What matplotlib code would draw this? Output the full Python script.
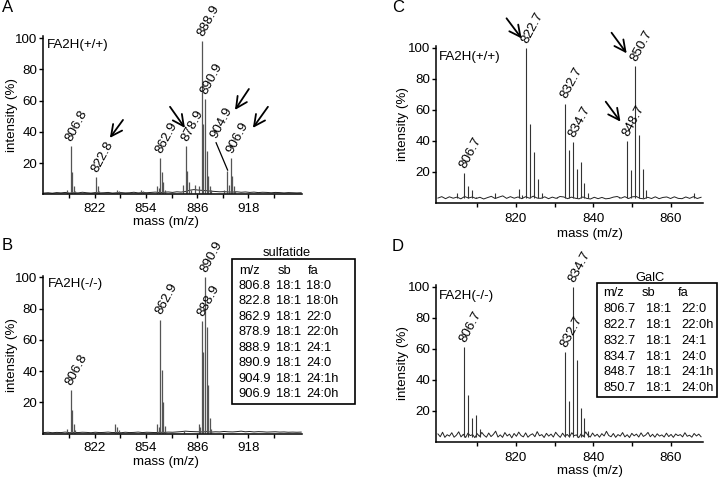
import numpy as np
import matplotlib
matplotlib.use('Agg')
import matplotlib.pyplot as plt
from matplotlib.patches import Rectangle
from matplotlib.ticker import FixedLocator

plt.rcParams['font.family'] = ['Liberation Sans', 'DejaVu Sans']
FS = 9.6
TFS = 9.3

# ---------------- data ----------------
# Panel A: sulfatide, FA2H(+/+)
a_mass = [804.8, 806.8, 807.8, 808.8, 809.8, 822.8, 823.8, 824.8, 835.8, 836.8,
          850.9, 851.9, 860.9, 861.9, 862.9, 863.9, 864.9, 865.9, 876.9, 878.9,
          879.9, 880.9, 881.9, 884.9, 886.9, 888.9, 889.9, 890.9, 891.9, 892.9,
          893.9, 894.9, 902.9, 904.9, 905.9, 906.9, 907.9, 908.9, 909.9]
a_int = [3, 31, 14, 5, 2, 11, 5, 2, 3, 2,
         3, 2, 5, 4, 23, 14, 8, 3, 6, 31,
         15, 8, 3, 6, 5, 98, 45, 61, 28, 12,
         5, 3, 3, 15, 6, 23, 12, 5, 2]
a_noise = [0.8, 1.0, 0.7, 1.1, 0.9, 1.2, 0.8, 1.0, 0.9, 1.3, 1.0, 0.8, 1.1, 0.9, 1.0,
           1.2, 0.8, 1.0, 1.1, 0.9, 1.0, 1.3, 0.9, 1.1, 1.0, 1.2, 1.4, 1.1, 1.3, 1.5,
           1.2, 1.6, 1.4, 1.8, 2.6, 3.0, 2.7, 2.5, 2.3, 2.0, 1.8, 1.6, 1.7, 1.5, 1.4,
           1.6, 1.3, 1.5, 1.2, 1.4, 1.1, 1.3, 1.2, 1.0, 1.2, 1.1, 0.9, 1.1, 1.0, 0.9, 1.0]
a_labels = ['806.8', '822.8', '862.9', '878.9', '888.9', '890.9', '906.9']
a_lab_mass = [806.8, 822.8, 862.9, 878.9, 888.9, 890.9, 906.9]
a_lab_int = [31, 11, 23, 31, 98, 61, 23]

# Panel B: sulfatide, FA2H(-/-)
b_mass = [804.8, 806.8, 807.8, 808.8, 809.8, 834.8, 835.8, 836.8, 860.9, 861.9,
          862.9, 863.9, 864.9, 865.9, 877.9, 886.9, 887.9, 888.9, 889.9, 890.9,
          891.9, 892.9, 893.9, 894.9]
b_int = [3, 28, 15, 6, 2, 6, 4, 2, 6, 4,
         73, 41, 20, 5, 1.5, 6, 4, 72, 52, 100,
         68, 31, 10, 3]
b_noise = [0.6, 0.8, 0.5, 0.7, 0.6, 0.9, 0.5, 0.7, 0.6, 0.8, 0.7, 0.5, 0.8, 0.6, 0.7,
           0.9, 0.6, 0.7, 0.5, 0.8, 0.6, 0.7, 0.9, 0.6, 0.8, 0.7, 0.6, 0.8, 0.7, 0.9,
           0.8, 1.0, 1.2, 1.5, 1.3, 1.2, 1.1, 1.0, 1.2, 0.9, 1.1, 1.0, 1.3, 1.1, 1.0,
           1.2, 1.5, 1.1, 1.3, 1.0, 1.2, 1.1, 0.9, 1.0, 1.1, 0.9, 1.0, 0.8, 0.9, 0.8, 0.9]
b_labels = ['806.8', '862.9', '888.9', '890.9']
b_lab_mass = [806.8, 862.9, 888.9, 890.9]
b_lab_int = [28, 73, 72, 100]

# Panel C: GalC, FA2H(+/+)
c_mass = [804.7, 806.7, 807.7, 808.7, 809.7, 814.7, 820.7, 821.7, 822.7, 823.7,
          824.7, 825.7, 826.7, 830.7, 832.7, 833.7, 834.7, 835.7, 836.7, 837.7,
          838.7, 846.7, 848.7, 849.7, 850.7, 851.7, 852.7, 853.7, 866.0]
c_int = [6, 19, 11, 8, 4, 6, 9, 5, 100, 51,
         33, 15, 6, 4, 64, 34, 39, 22, 26, 13,
         6, 4, 40, 21, 88, 44, 22, 8, 6]
c_noise = [3.0, 3.9, 2.6, 3.8, 2.9, 3.6, 2.5, 4.0, 3.0, 3.7, 2.7, 3.5, 2.4, 3.3, 4.1,
           2.7, 3.6, 4.4, 2.8, 3.9, 2.9, 3.7, 2.6, 3.9, 2.9, 4.2, 3.0, 2.8, 3.8, 2.6,
           3.6, 2.8, 4.0, 3.7, 2.6, 3.6, 2.9, 2.5, 3.7, 2.8, 2.4, 3.5, 2.6, 3.4, 2.5,
           2.8, 3.6, 4.0, 2.9, 3.9, 2.7, 3.8, 4.0, 2.8, 2.5, 3.5, 2.7, 3.8, 2.6, 3.4,
           3.7, 2.7, 3.8, 2.8, 2.6, 3.7, 2.8, 3.9, 2.7, 3.5]
c_labels = ['806.7', '822.7', '832.7', '834.7', '848.7', '850.7']
c_lab_mass = [806.7, 822.7, 832.7, 834.7, 848.7, 850.7]
c_lab_int = [19, 100, 64, 39, 40, 88]

# Panel D: GalC, FA2H(-/-)
d_mass = [806.7, 807.7, 808.7, 809.7, 810.7, 832.7, 833.7, 834.7, 835.7, 836.7,
          837.7, 838.7]
d_int = [61, 30, 15, 17, 8, 58, 26, 100, 53, 22,
         15, 7]
d_noise = [5.0, 3.2, 6.1, 2.8, 4.5, 3.6, 5.8, 2.9, 4.2, 6.4, 3.1, 4.8, 2.7, 5.5, 3.9,
           4.6, 2.6, 5.2, 3.4, 6.0, 4.1, 2.9, 5.6, 3.3, 4.7, 6.8, 3.0, 4.4, 2.8, 5.9,
           3.7, 4.9, 2.5, 5.3, 3.5, 6.2, 4.0, 3.1, 5.7, 2.9, 4.3, 5.1, 3.2, 6.5, 3.8,
           4.6, 2.7, 5.4, 3.6, 4.9, 3.0, 6.1, 4.2, 2.8, 5.5, 3.4, 4.7, 3.1, 5.8, 3.9,
           4.4, 2.6, 5.0, 3.3, 6.3, 4.1, 3.0, 5.6, 3.5, 4.8, 2.9, 5.2, 3.7, 6.7, 4.0,
           3.2, 5.3, 2.8, 4.6, 3.6, 5.9, 3.1, 4.5, 2.7, 5.4, 3.8, 4.9, 3.0, 5.7, 3.4,
           4.3, 6.0, 3.2, 4.8, 2.9, 5.1, 3.6, 4.4, 3.0, 5.5, 3.3, 4.7, 2.8, 5.0, 3.9,
           4.6, 3.1, 5.8, 3.5, 4.2, 2.9, 5.3, 3.7, 4.9, 3.2]
d_labels = ['806.7', '832.7', '834.7']
d_lab_mass = [806.7, 832.7, 834.7]
d_lab_int = [61, 58, 100]

# tables
sulf_mz = ['806.8', '822.8', '862.9', '878.9', '888.9', '890.9', '904.9', '906.9']
sulf_sb = ['18:1'] * 8
sulf_fa = ['18:0', '18:0h', '22:0', '22:0h', '24:1', '24:0', '24:1h', '24:0h']
galc_mz = ['806.7', '822.7', '832.7', '834.7', '848.7', '850.7']
galc_sb = ['18:1'] * 6
galc_fa = ['22:0', '22:0h', '24:1', '24:0', '24:1h', '24:0h']

W, H = 720, 480
fig = plt.figure(figsize=(7.2, 4.8), dpi=100)


def px_axes(x0, x1, ytop, ybot):
    return fig.add_axes([x0 / W, 1 - ybot / H, (x1 - x0) / W, (ybot - ytop) / H])


def setup(ax, xlim, major, minor):
    ax.set_xlim(*xlim)
    ax.set_ylim(0, 101)
    for s in ['top', 'right']:
        ax.spines[s].set_visible(False)
    for s in ['left', 'bottom']:
        ax.spines[s].set_linewidth(1.1)
    ax.xaxis.set_major_locator(FixedLocator(major))
    ax.xaxis.set_minor_locator(FixedLocator(minor))
    ax.yaxis.set_major_locator(FixedLocator([20, 40, 60, 80, 100]))
    ax.tick_params(axis='both', which='both', direction='out', length=3, width=1,
                   labelsize=FS)
    ax.tick_params(axis='x', pad=3)
    ax.tick_params(axis='y', pad=1)
    ax.set_ylabel('intensity (%)', fontsize=FS)
    ax.set_xlabel('mass (m/z)', fontsize=FS)


def spectrum(ax, mass, inten, noise, xlim, floor, color, lw):
    nx = np.linspace(xlim[0] + 0.5, xlim[1] - 0.5, len(noise))
    ax.plot(nx, noise, color='#222222', lw=0.7, clip_on=False)
    ax.vlines(mass, floor, inten, colors=color, lw=lw)


def labels(ax, texts, mass, inten):
    for t, m, h in zip(texts, mass, inten):
        ax.annotate(t, (m, h), xytext=(-1, 4), textcoords='offset points',
                    rotation=62, rotation_mode='anchor', ha='left', va='center',
                    fontsize=FS, annotation_clip=False)


def arrow(ax, start, end):
    ax.annotate('', xy=end, xytext=start, annotation_clip=False,
                arrowprops=dict(arrowstyle='->,head_length=0.8,head_width=0.4',
                                color='black', lw=1.3, shrinkA=0, shrinkB=0))


# ---- A ----
xl_ab = (789.6, 951.5)
axA = px_axes(43, 302, 36.5, 194.3)
setup(axA, xl_ab, [822, 854, 886, 918], [806, 838, 870, 902, 934])
spectrum(axA, a_mass, a_int, a_noise, xl_ab, 0.8, '#555555', 0.9)
labels(axA, a_labels, a_lab_mass, a_lab_int)
axA.annotate('904.9', (896.3, 36), rotation=62, rotation_mode='anchor', ha='left',
             va='center', fontsize=FS, annotation_clip=False)
axA.plot([897.8, 905.0], [33, 15.5], color='black', lw=0.9)
arrow(axA, (839.6, 47.6), (831.4, 36.1))
arrow(axA, (869.0, 56), (878.3, 42.5))
arrow(axA, (918.3, 67.4), (909.6, 54))
arrow(axA, (930.2, 56), (920.8, 42.5))
axA.text(0.015, 0.985, 'FA2H(+/+)', transform=axA.transAxes, ha='left', va='top',
         fontsize=FS)
axA.yaxis.set_label_coords(-0.097, 0.5)
axA.xaxis.set_label_coords(0.475, -0.137)

# ---- B ----
axB = px_axes(43, 302, 275.9, 433.5)
setup(axB, xl_ab, [822, 854, 886, 918], [806, 838, 870, 902, 934])
spectrum(axB, b_mass, b_int, b_noise, xl_ab, 0.6, '#555555', 0.9)
labels(axB, b_labels, b_lab_mass, b_lab_int)
axB.text(0.02, 0.985, 'FA2H(-/-)', transform=axB.transAxes, ha='left', va='top',
         fontsize=FS)
axB.yaxis.set_label_coords(-0.097, 0.5)
axB.xaxis.set_label_coords(0.475, -0.141)

# ---- C ----
xl_cd = (799.4, 868.3)
axC = px_axes(436, 703, 46.2, 202.7)
setup(axC, xl_cd, [820, 840, 860], [810, 830, 850])
axC.tick_params(axis='x', pad=4.5)
spectrum(axC, c_mass, c_int, c_noise, xl_cd, 2.8, '#333333', 0.8)
labels(axC, c_labels, c_lab_mass, c_lab_int)
arrow(axC, (817.6, 119), (821.5, 106))
arrow(axC, (844.7, 109.7), (848.6, 96.4))
arrow(axC, (843.2, 65.2), (847.0, 52.3))
axC.text(0.01, 0.97, 'FA2H(+/+)', transform=axC.transAxes, ha='left', va='top',
         fontsize=FS)
axC.yaxis.set_label_coords(-0.10, 0.5)
axC.xaxis.set_label_coords(0.577, -0.16)

# ---- D ----
axD = px_axes(436, 703, 285.2, 441.7)
setup(axD, xl_cd, [820, 840, 860], [810, 830, 850])
axD.tick_params(axis='x', pad=4.5)
spectrum(axD, d_mass, d_int, d_noise, xl_cd, 3.0, '#333333', 0.8)
labels(axD, d_labels, d_lab_mass, d_lab_int)
axD.text(0.01, 0.97, 'FA2H(-/-)', transform=axD.transAxes, ha='left', va='top',
         fontsize=FS)
axD.yaxis.set_label_coords(-0.10, 0.5)
axD.xaxis.set_label_coords(0.577, -0.152)

# ---- panel letters ----
for letter, (x, y) in zip('ABCD', [(8, 8), (7, 246), (398, 8), (398, 247)]):
    fig.text(x / W, 1 - y / H, letter, fontsize=12, ha='center', va='center')


# ---- tables ----
def table(title, tx, ty, box, hdr_x, val_x, y0, dy, mz, sb, fa):
    x0, x1, yt, yb = box
    fig.patches.append(Rectangle((x0 / W, 1 - yb / H), (x1 - x0) / W, (yb - yt) / H,
                                 transform=fig.transFigure, fill=False,
                                 edgecolor='black', lw=1.2))
    fig.text(tx / W, 1 - ty / H, title, ha='center', va='center', fontsize=TFS)
    for t, x in zip(['m/z', 'sb', 'fa'], hdr_x):
        fig.text(x / W, 1 - y0 / H, t, ha='left', va='center', fontsize=TFS)
    for i, row in enumerate(zip(mz, sb, fa)):
        y = y0 + (i + 1) * dy
        for t, x in zip(row, val_x):
            fig.text(x / W, 1 - y / H, t, ha='left', va='center', fontsize=TFS)


table('sulfatide', 287, 253.3, (232, 355, 259, 404), [239.5, 277.7, 308.3],
      [238.5, 276, 306], 270.7, 15.4, sulf_mz, sulf_sb, sulf_fa)
table('GalC', 650, 277.7, (597, 717, 282.7, 396.7), [603.3, 641.7, 678.3],
      [604, 646, 681.7], 293.3, 15.8, galc_mz, galc_sb, galc_fa)

fig.savefig('out.png', dpi=100)
